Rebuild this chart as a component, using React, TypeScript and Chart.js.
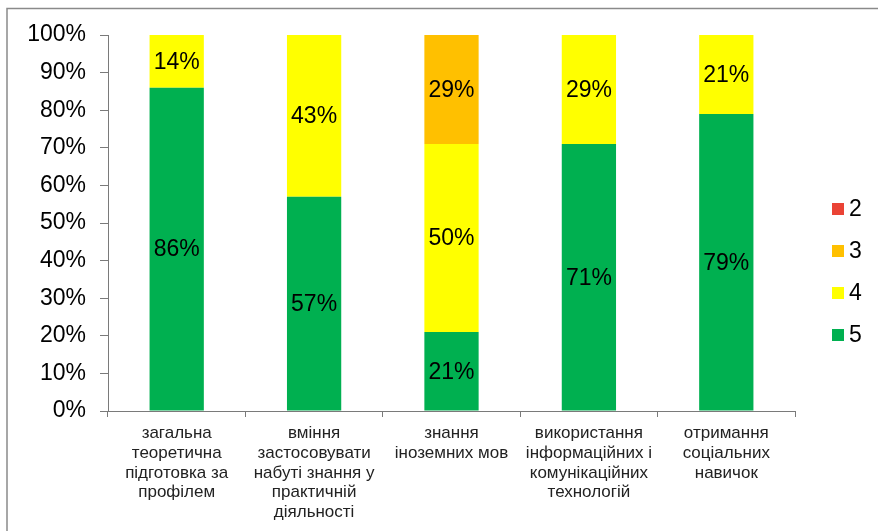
import React, { useEffect, useRef } from "react";
import { Chart, registerables } from "chart.js";

Chart.register(...registerables);

const categories: string[][] = [
  ["загальна", "теоретична", "підготовка за", "профілем"],
  ["вміння", "застосовувати", "набуті знання у", "практичній", "діяльності"],
  ["знання", "іноземних мов"],
  ["використання", "інформаційних і", "комунікаційних", "технологій"],
  ["отримання", "соціальних", "навичок"],
];

const grade5 = [86, 57, 21, 71, 79];
const grade4 = [14, 43, 50, 29, 21];
const grade3 = [0, 0, 29, 0, 0];
const grade2 = [0, 0, 0, 0, 0];

const seriesNames = ["5", "4", "3", "2"];
const seriesColors = ["#00B050", "#FFFF00", "#FFC000", "#EA4335"];

const FONT = "Arial, 'Liberation Sans', sans-serif";

const framePlugin = {
  id: "frame",
  beforeDraw(chart: any) {
    const ctx = chart.ctx;
    ctx.save();
    ctx.strokeStyle = "#8a8a8a";
    ctx.lineWidth = 1.5;
    ctx.beginPath();
    ctx.moveTo(7, 540);
    ctx.lineTo(7, 8.5);
    ctx.lineTo(900, 8.5);
    ctx.stroke();
    ctx.restore();
  },
};

const labelPlugin = {
  id: "segLabels",
  afterDatasetsDraw(chart: any) {
    const ctx = chart.ctx;
    ctx.save();
    ctx.font = `23px ${FONT}`;
    ctx.fillStyle = "#000";
    ctx.textAlign = "center";
    ctx.textBaseline = "middle";
    chart.data.datasets.forEach((ds: any, i: number) => {
      const meta = chart.getDatasetMeta(i);
      meta.data.forEach((bar: any, j: number) => {
        const v = ds.data[j];
        if (!v) return;
        ctx.fillText(`${v}%`, bar.x, (bar.y + bar.base) / 2 + 1);
      });
    });
    ctx.restore();
  },
};

const legendPlugin = {
  id: "customLegend",
  afterDraw(chart: any) {
    const ctx = chart.ctx;
    ctx.save();
    ctx.font = `23px ${FONT}`;
    ctx.textAlign = "left";
    ctx.textBaseline = "middle";
    const order = [3, 2, 1, 0];
    order.forEach((idx, k) => {
      const cy = 209 + k * 42;
      ctx.fillStyle = seriesColors[idx];
      ctx.fillRect(832, cy - 6, 12, 12);
      ctx.fillStyle = "#000";
      ctx.fillText(seriesNames[idx], 849, cy + 1);
    });
    ctx.restore();
  },
};

export default function App() {
  const ref = useRef<HTMLCanvasElement>(null);
  useEffect(() => {
    if (!ref.current) return;
    const values = [grade5, grade4, grade3, grade2];
    const chart = new Chart(ref.current, {
      type: "bar",
      data: {
        labels: categories,
        datasets: values.map((d, i) => ({
          label: seriesNames[i],
          data: d,
          backgroundColor: seriesColors[i],
          borderWidth: 0,
          barPercentage: 1,
          categoryPercentage: 0.395,
        })),
      },
      options: {
        animation: false,
        responsive: false,
        maintainAspectRatio: false,
        layout: { padding: { left: 0, top: 35, right: 83, bottom: 0 } },
        plugins: {
          legend: { display: false },
          tooltip: { enabled: false },
        },
        scales: {
          x: {
            stacked: true,
            grid: {
              drawOnChartArea: false,
              drawTicks: true,
              tickLength: 6,
              color: "#7a7a7a",
              tickColor: "#7a7a7a",
              lineWidth: 1,
              offset: true,
            },
            border: { color: "#7a7a7a", width: 1 },
            ticks: {
              color: "#222",
              font: { size: 17, family: FONT, lineHeight: 1.15 },
              padding: 7,
              maxRotation: 0,
              autoSkip: false,
            },
            afterFit(scale: any) {
              scale.height = 120;
            },
          },
          y: {
            stacked: true,
            min: 0,
            max: 100,
            grid: {
              drawOnChartArea: false,
              drawTicks: true,
              tickLength: 8,
              color: "#7a7a7a",
              tickColor: "#7a7a7a",
              lineWidth: 1,
            },
            border: { color: "#7a7a7a", width: 1 },
            ticks: {
              stepSize: 10,
              color: "#000",
              font: { size: 23, family: FONT },
              padding: 14,
              callback: (v: any) => `${v}%`,
            },
            afterFit(scale: any) {
              scale.width = 108;
            },
          },
        },
      },
      plugins: [framePlugin, labelPlugin, legendPlugin],
    });
    return () => chart.destroy();
  }, []);
  return (
    <div style={{ position: "fixed", left: 0, top: 0, width: 878, height: 531, background: "#fff" }}>
      <canvas ref={ref} width={878} height={531} style={{ width: 878, height: 531 }} />
    </div>
  );
}
